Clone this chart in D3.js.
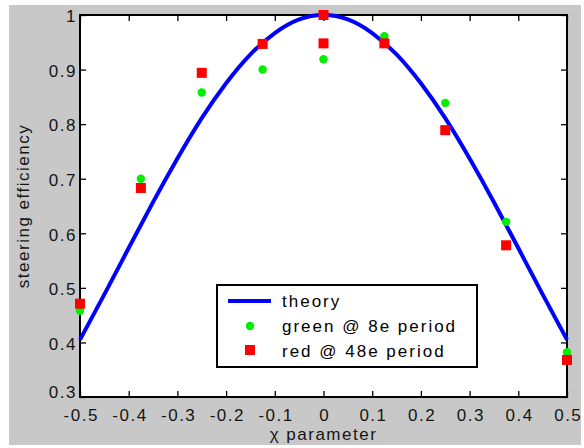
<!DOCTYPE html>
<html><head><meta charset="utf-8">
<script src="https://cdn.jsdelivr.net/npm/d3@7"></script>
<style>body{margin:0;background:#fff;}svg{display:block;font-family:"Liberation Sans",Arial,sans-serif;}</style>
</head><body><svg id="c" width="584" height="448"></svg>
<script>
const theoryX = [-0.5,-0.45,-0.4,-0.35,-0.3,-0.25,-0.2,-0.15,-0.1,-0.05,0,0.05,0.1,0.15,0.2,0.25,0.3,0.35,0.4,0.45,0.5];
const theoryY = [0.405,0.488,0.573,0.657,0.737,0.811,0.875,0.928,0.967,0.992,1.0,0.992,0.967,0.928,0.875,0.811,0.737,0.657,0.573,0.488,0.405];
const greenX = [-0.5,-0.375,-0.25,-0.125,0,0.125,0.25,0.375,0.5];
const greenY = [0.458,0.70,0.858,0.90,0.919,0.961,0.839,0.621,0.382];
const redX = [-0.5,-0.375,-0.25,-0.125,0,0,0.125,0.25,0.375,0.5];
const redY = [0.471,0.683,0.894,0.947,1.0,0.948,0.948,0.789,0.578,0.368];
const xTicks = [-0.5,-0.4,-0.3,-0.2,-0.1,0,0.1,0.2,0.3,0.4,0.5];
const yTicks = [0.3,0.4,0.5,0.6,0.7,0.8,0.9,1];
const legendLabels = ["theory","green @ 8e period","red @ 48e period"];

const svg = d3.select("#c");
svg.append("rect").attr("x",9).attr("y",5).attr("width",572).attr("height",440).attr("fill","#c8c8c8");
const L=80,R=567,T=15,B=397;
const x = d3.scaleLinear().domain([-0.5,0.5]).range([L,R]);
const y = d3.scaleLinear().domain([0.3,1]).range([B,T]);
svg.append("rect").attr("x",L).attr("y",T).attr("width",R-L).attr("height",B-T).attr("fill","#fff");

const fmt = d => d===0?"0":(d===1?"1":d3.format(".1f")(d).replace("−","-"));
function styleAx(g){g.select(".domain").remove();g.selectAll("line").attr("stroke","#000").attr("stroke-width",1.3);
 g.selectAll("text").attr("fill","#151515").style("font-size","17px").style("letter-spacing","1.5px");}
const gx = svg.append("g").attr("transform",`translate(0,${B})`).call(d3.axisBottom(x).tickValues(xTicks).tickFormat(fmt).tickSizeInner(-6).tickSizeOuter(0).tickPadding(12)).call(styleAx);
gx.selectAll("text").attr("dx","0.75px");
svg.append("g").attr("transform",`translate(0,${T})`).call(d3.axisTop(x).tickValues(xTicks).tickFormat("").tickSizeInner(-6).tickSizeOuter(0)).call(styleAx);
const gy = svg.append("g").attr("transform",`translate(${L},0)`).call(d3.axisLeft(y).tickValues(yTicks).tickFormat(fmt).tickSizeInner(-6).tickSizeOuter(0).tickPadding(3)).call(styleAx);
gy.selectAll("text").attr("dy",d=>d===0.3?"0.05em":"0.4em");
svg.append("g").attr("transform",`translate(${R},0)`).call(d3.axisRight(y).tickValues(yTicks).tickFormat("").tickSizeInner(-6).tickSizeOuter(0)).call(styleAx);
svg.append("rect").attr("x",L).attr("y",T).attr("width",R-L).attr("height",B-T).attr("fill","none").attr("stroke","#000").attr("stroke-width",2);

const line = d3.line().x((d,i)=>x(theoryX[i])).y(d=>y(d)).curve(d3.curveNatural);
svg.append("path").datum(theoryY).attr("d",line).attr("fill","none").attr("stroke","#0000ff").attr("stroke-width",4);

svg.append("g").selectAll("circle").data(greenY).join("circle")
 .attr("cx",(d,i)=>x(greenX[i])).attr("cy",d=>y(d)).attr("r",4.2).attr("fill","#00ee00");
svg.append("g").selectAll("rect").data(redY).join("rect")
 .attr("x",(d,i)=>x(redX[i])-5).attr("y",d=>y(d)-5).attr("width",10).attr("height",10).attr("fill","#ff0000");

// legend
const lg = svg.append("g");
lg.append("rect").attr("x",217).attr("y",285).attr("width",260).attr("height",82).attr("fill","#fff").attr("stroke","#000").attr("stroke-width",2);
lg.append("line").attr("x1",228).attr("x2",271).attr("y1",301).attr("y2",301).attr("stroke","#0000ff").attr("stroke-width",4);
lg.append("circle").attr("cx",250).attr("cy",326).attr("r",4.2).attr("fill","#00ee00");
lg.append("rect").attr("x",245).attr("y",345).attr("width",10).attr("height",10).attr("fill","#ff0000");
lg.selectAll("text.l").data(legendLabels).join("text").attr("class","l")
 .attr("x",282).attr("y",(d,i)=>307+i*25).attr("fill","#000").style("font-size","17px").style("letter-spacing","2px").text(d=>d);

svg.append("text").attr("x",(L+R)/2).attr("y",440).attr("text-anchor","middle").style("font-size","17px").style("letter-spacing","1.5px").attr("fill","#151515").text("χ parameter");
svg.append("text").attr("transform",`translate(29,${(T+B)/2}) rotate(-90)`).attr("text-anchor","middle").style("font-size","17px").style("letter-spacing","1.5px").attr("fill","#151515").text("steering efficiency");
</script></body></html>
